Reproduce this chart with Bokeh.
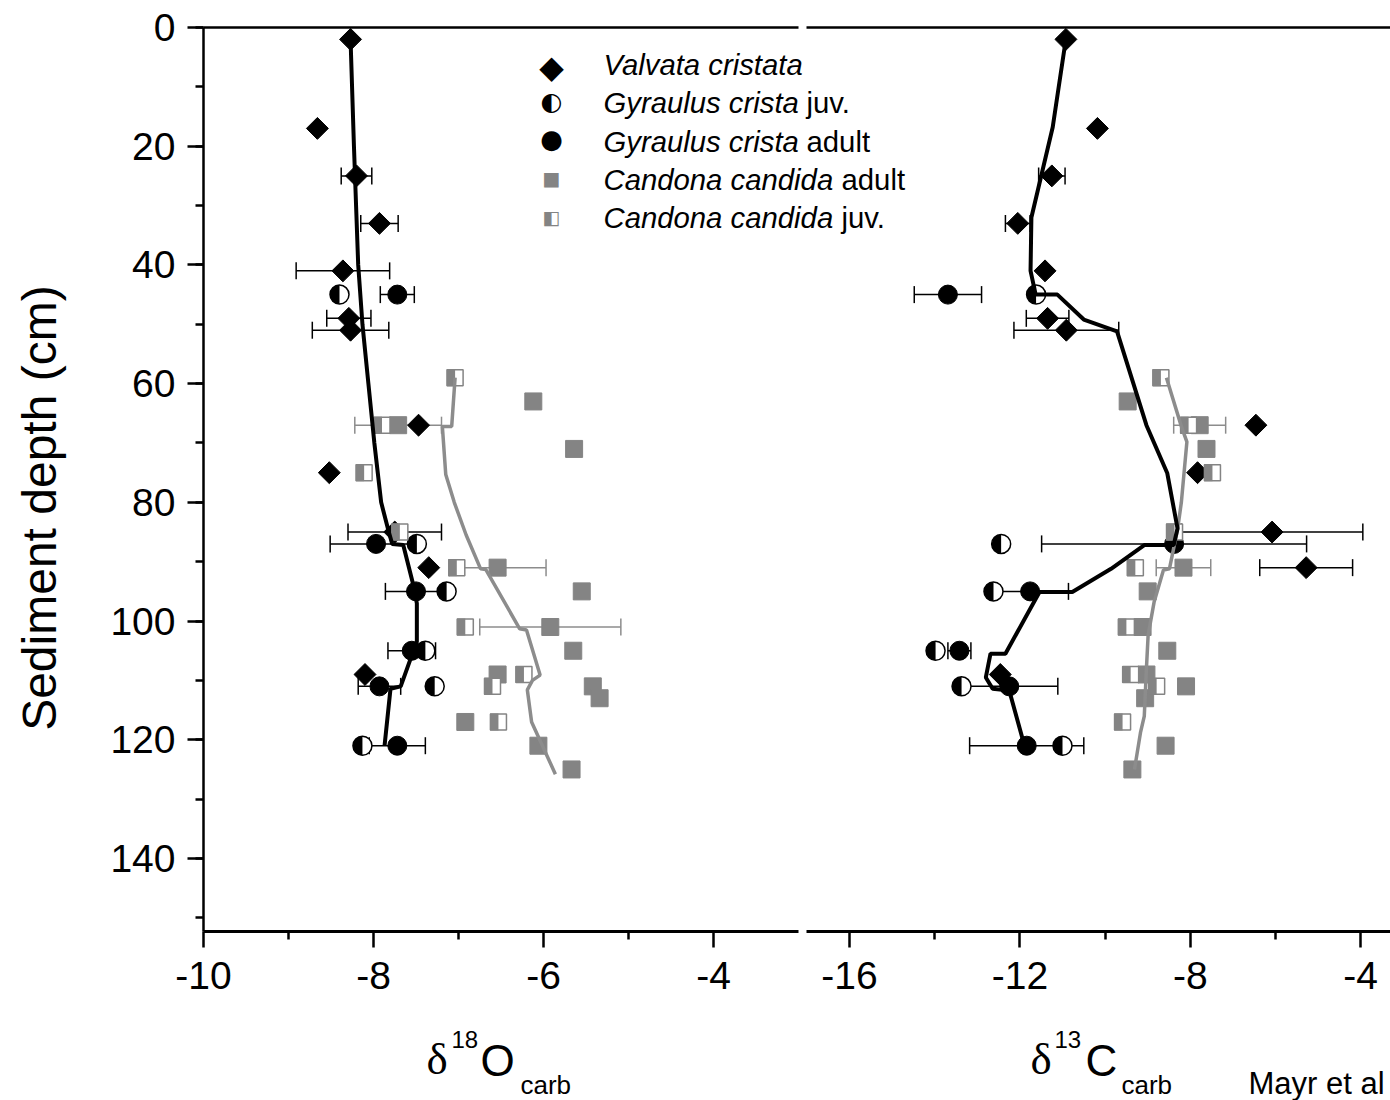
import numpy as np
from bokeh.plotting import figure
from bokeh.layouts import column, row
from bokeh.models import Range1d, LinearAxis, FixedTicker, SingleIntervalTicker, Label
from bokeh.embed import file_html
from bokeh.resources import INLINE

# ---------------- data: delta18O panel ----------------
VC_DEPTH_O = [2, 17, 25, 33, 41, 49, 51, 67, 75, 85, 91, 109]
VC_O = [-8.27, -8.66, -8.2, -7.93, -8.36, -8.29, -8.27, -7.47, -8.52, -7.75, -7.35, -8.1]
VC_O_ERR = [0, 0, 0.18, 0.22, 0.55, 0.26, 0.45, 0, 0, 0.55, 0, 0]

GJ_DEPTH_O = [45, 87, 95, 105, 111, 121]
GJ_O = [-8.4, -7.49, -7.14, -7.39, -7.28, -8.13]

GA_DEPTH_O = [45, 87, 95, 105, 111, 121]
GA_O = [-7.72, -7.97, -7.5, -7.55, -7.93, -7.72]
GA_O_ERR = [0.2, 0.54, 0.36, 0.28, 0.25, 0.33]

CA_DEPTH_O = [63, 67, 71, 91, 95, 101, 105, 109, 111, 113, 117, 121, 125]
CA_O = [-6.12, -7.71, -5.64, -6.54, -5.55, -5.92, -5.65, -6.54, -5.42, -5.34, -6.92, -6.06, -5.67]
CA_O_ERR = [0, 0.51, 0, 0.57, 0, 0.83, 0, 0, 0, 0, 0, 0, 0]

CJ_DEPTH_O = [59, 67, 75, 85, 91, 101, 109, 111, 117]
CJ_O = [-7.04, -7.9, -8.11, -7.69, -7.02, -6.92, -6.23, -6.6, -6.53]

MOLL_LINE_DEPTH_O = [2, 20, 40, 50, 60, 70, 80, 85, 87, 87.2, 94, 97, 103.5, 107, 111, 111.4, 121]
MOLL_LINE_O = [-8.27, -8.23, -8.18, -8.13, -8.06, -7.99, -7.91, -7.82, -7.78, -7.65, -7.53, -7.49,
               -7.49, -7.58, -7.68, -7.8, -7.87]
CAND_LINE_DEPTH_O = [59, 67.2, 67.2, 75.3, 80, 85.5, 91.2, 91.3, 101.3, 101.5, 109.1, 110, 111.6, 117, 125.8]
CAND_LINE_O = [-7.04, -7.08, -7.19, -7.15, -7.05, -6.91, -6.74, -6.68, -6.28, -6.2, -6.04, -6.13,
               -6.19, -6.14, -5.86]

# ---------------- data: delta13C panel ----------------
VC_DEPTH_C = [2, 17, 25, 33, 41, 49, 51, 67, 75, 85, 91, 109]
VC_C = [-10.92, -10.18, -11.25, -12.05, -11.41, -11.35, -10.91, -6.46, -7.83, -6.08, -5.28, -12.46]
VC_C_ERR = [0, 0, 0.31, 0.29, 0, 0.5, 1.23, 0, 0, 2.13, 1.09, 0]

GJ_DEPTH_C = [45, 87, 95, 105, 111, 121]
GJ_C = [-11.62, -12.44, -12.62, -13.98, -13.37, -11.0]

GA_DEPTH_C = [45, 87, 95, 105, 111, 121]
GA_C = [-13.69, -8.38, -11.76, -13.42, -12.25, -11.84]
GA_C_ERR = [0.79, 3.11, 0.9, 0.27, 1.14, 1.34]

CA_DEPTH_C = [63, 67, 71, 91, 95, 101, 105, 109, 111, 113, 121, 125]
CA_C = [-9.47, -7.78, -7.62, -8.16, -9.0, -9.12, -8.54, -9.03, -8.1, -9.06, -8.58, -9.36]
CA_C_ERR = [0, 0.61, 0, 0.64, 0, 0, 0, 0, 0, 0, 0, 0]

CJ_DEPTH_C = [59, 67, 75, 85, 91, 101, 109, 111, 117]
CJ_C = [-8.69, -8.04, -7.48, -8.37, -9.29, -9.5, -9.4, -8.79, -9.59]

MOLL_LINE_DEPTH_C = [1.9, 16.8, 32, 41, 45, 45, 49.2, 51.2, 67, 75.1, 84.4, 87.2, 87.2, 91.2, 95.1,
                     95.1, 105.5, 105.5, 109.5, 111.4, 111.7, 121.6]
MOLL_LINE_C = [-10.92, -11.23, -11.73, -11.75, -11.63, -11.12, -10.5, -9.72, -9.03, -8.54, -8.3,
               -8.39, -9.08, -9.86, -10.77, -11.54, -12.34, -12.69, -12.8, -12.64, -12.25, -11.87]
CAND_LINE_DEPTH_C = [59, 67.2, 69.8, 80, 84.6, 91.2, 91.4, 96.8, 102.4, 108, 116, 118.8, 125]
CAND_LINE_C = [-8.56, -8.21, -8.08, -8.21, -8.3, -8.49, -8.63, -8.85, -8.99, -9.03, -9.08, -9.17, -9.31]

# axis ticks
O_MAJOR = [-10, -8, -6, -4]
O_MINOR = [-9, -7, -5]
C_MAJOR = [-16, -12, -8, -4]
C_MINOR = [-14, -10, -6]
DEPTH_MAX = 152.3

# ---------------- layout ----------------
W, H = 1390, 1100
YW = 90                            # width of the strip holding the y title
MAIN_H = 1012                      # height of main plot; caption strip below
FL, FT, FB = 203, 27, 931          # frame left / top / bottom (canvas px)
FW = W - FL
PX_O = 85.0                        # px per delta18O unit
PX_C = 42.6                        # px per delta13C unit
O_LEFT, O_RIGHT = -10.0, -3.0
C_LEFT = -17.0
GAP = 8.4
TXT_SHIFT = 0.37                   # empirical baseline correction (fraction of font size)

main_end = O_LEFT + FW / PX_O
c_start = C_LEFT - ((O_RIGHT - O_LEFT) * PX_O + GAP) / PX_C
c_end = c_start + FW / PX_C

BLACK = "black"
GRAY = "#848484"
LGRAY = "#8c8c8c"

p = figure(width=W - YW, height=MAIN_H, output_backend="svg", toolbar_location=None,
           x_range=Range1d(O_LEFT, main_end), y_range=Range1d(DEPTH_MAX, 0),
           x_axis_location=None, min_border_left=FL - YW, min_border_right=0,
           min_border_top=FT, min_border_bottom=MAIN_H - FB)
p.extra_x_ranges = {"c13": Range1d(c_start, c_end)}
p.outline_line_color = None
p.xgrid.visible = False
p.ygrid.visible = False
p.background_fill_color = "white"
p.border_fill_color = "white"


def to_main(v):
    return O_LEFT + (v - c_start) * (main_end - O_LEFT) / (c_end - c_start)


def frame_line(side, rname, bounds, width):
    kw = {} if rname is None else {"x_range_name": rname}
    ax = LinearAxis(ticker=FixedTicker(ticks=[]), major_label_text_font_size="0px",
                    major_label_standoff=0, major_tick_out=0, major_tick_in=0,
                    minor_tick_out=0, minor_tick_in=0, axis_line_width=width,
                    bounds=bounds, **kw)
    p.add_layout(ax, side)


# split frame lines (bottom and top) with a small gap between the two panels
frame_line("below", None, (O_LEFT, O_RIGHT), 3)
frame_line("below", "c13", (C_LEFT, c_end), 3)
frame_line("above", None, (O_LEFT, O_RIGHT), 2.5)
frame_line("above", "c13", (C_LEFT, c_end), 2.5)

major = [float(t) for t in O_MAJOR] + [to_main(t) for t in C_MAJOR]
minor = [float(t) for t in O_MINOR] + [to_main(t) for t in C_MINOR]
labels = [str(t) for t in O_MAJOR] + [str(t) for t in C_MAJOR]

xa = LinearAxis(ticker=FixedTicker(ticks=major, minor_ticks=minor))
xa.major_label_overrides = {k: v for k, v in zip(major, labels)}
xa.major_label_text_font = "Liberation Sans"
xa.major_label_text_font_size = "39px"
xa.major_label_text_color = BLACK
xa.major_label_standoff = 14
xa.major_tick_out = 16
xa.major_tick_in = 0
xa.minor_tick_out = 8
xa.minor_tick_in = 0
xa.axis_line_color = None
xa.major_tick_line_width = 2.5
xa.minor_tick_line_width = 2.5
p.add_layout(xa, "below")

ya = p.yaxis[0]
ya.ticker = SingleIntervalTicker(interval=20, num_minor_ticks=2)
ya.major_label_text_font = "Liberation Sans"
ya.major_label_text_font_size = "39px"
ya.major_label_text_color = BLACK
ya.major_label_standoff = 12
ya.major_tick_out = 16
ya.major_tick_in = 0
ya.minor_tick_out = 8
ya.minor_tick_in = 0
ya.axis_line_width = 2.5
ya.major_tick_line_width = 2.5
ya.minor_tick_line_width = 2.5


def errbars(xs, ds, es, color, rname):
    xs, ds, es = np.array(xs, float), np.array(ds, float), np.array(es, float)
    m = es > 0
    x, d, e = xs[m], ds[m], es[m]
    kw = {} if rname is None else {"x_range_name": rname}
    p.segment(x0=x - e, x1=x + e, y0=d, y1=d, line_color=color, line_width=1.5, **kw)
    p.scatter(x=np.concatenate([x - e, x + e]), y=np.concatenate([d, d]), marker="dash",
              angle=np.pi / 2, size=17, line_color=color, line_width=1.5, **kw)


def panel(vc, vce, vcd, gj, gjd, ga, gae, gad, ca, cae, cad, cj, cjd, ml, mld, cl, cld, rname, ppu):
    kw = {} if rname is None else {"x_range_name": rname}
    errbars(vc, vcd, vce, BLACK, rname)
    errbars(ga, gad, gae, BLACK, rname)
    errbars(ca, cad, cae, LGRAY, rname)
    # Valvata cristata: diamonds
    p.scatter(x=vc, y=vcd, marker="square", angle=np.pi / 4, size=15.5,
              fill_color=BLACK, line_color=BLACK, **kw)
    # Gyraulus crista juv.: half-filled circles
    p.scatter(x=gj, y=gjd, marker="circle", size=19, fill_color="white",
              line_color=BLACK, line_width=1.5, **kw)
    p.wedge(x=gj, y=gjd, radius=9.5, radius_units="screen", start_angle=np.pi / 2,
            end_angle=3 * np.pi / 2, fill_color=BLACK, line_color=None, **kw)
    # Gyraulus crista adult: filled circles
    p.scatter(x=ga, y=gad, marker="circle", size=19, fill_color=BLACK, line_color=BLACK, **kw)
    # Candona candida adult: gray squares
    p.scatter(x=ca, y=cad, marker="square", size=17, fill_color=GRAY, line_color=GRAY, **kw)
    # Candona candida juv.: half-filled squares
    p.scatter(x=cj, y=cjd, marker="square", size=16, fill_color="white",
              line_color=GRAY, line_width=1.5, **kw)
    off = 4.25 / ppu
    p.rect(x=np.array(cj) - off, y=cjd, width=8.5, height=17, width_units="screen",
           height_units="screen", fill_color=GRAY, line_color=None, **kw)
    # smoothed trends
    p.line(x=cl, y=cld, line_color=LGRAY, line_width=3.5, **kw)
    p.line(x=ml, y=mld, line_color=BLACK, line_width=4, **kw)


panel(VC_O, VC_O_ERR, VC_DEPTH_O, GJ_O, GJ_DEPTH_O, GA_O, GA_O_ERR, GA_DEPTH_O,
      CA_O, CA_O_ERR, CA_DEPTH_O, CJ_O, CJ_DEPTH_O, MOLL_LINE_O, MOLL_LINE_DEPTH_O,
      CAND_LINE_O, CAND_LINE_DEPTH_O, None, PX_O)
panel(VC_C, VC_C_ERR, VC_DEPTH_C, GJ_C, GJ_DEPTH_C, GA_C, GA_C_ERR, GA_DEPTH_C,
      CA_C, CA_C_ERR, CA_DEPTH_C, CJ_C, CJ_DEPTH_C, MOLL_LINE_C, MOLL_LINE_DEPTH_C,
      CAND_LINE_C, CAND_LINE_DEPTH_C, "c13", PX_C)


def legend_text(txt, cx, cy, size, font="Liberation Sans", style="normal", color=BLACK,
                align="left", baseline="alphabetic", shift=True):
    dy = TXT_SHIFT * size if shift else 0
    p.add_layout(Label(x=cx - FL, y=FB - (cy - dy), x_units="screen", y_units="screen",
                       text=txt, text_font=font, text_font_size=f"{size}px",
                       text_font_style=style, text_color=color, text_align=align,
                       text_baseline=baseline))


# legend (inside the plot frame)
LEG_X, LEG_TX = 551, 603
rows = [75, 113.3, 151.7, 190, 228]
sym_y = [68, 103, 140, 179, 218]
syms = [("\u25C6", BLACK, 32), ("\u25D0", BLACK, 25), ("\u25CF", BLACK, 26),
        ("\u25A0", GRAY, 19), ("\u25E7", GRAY, 19)]
names = [("Valvata cristata", "", 0), ("Gyraulus crista", "juv.", 806),
         ("Gyraulus crista", "adult", 806), ("Candona candida", "adult", 841),
         ("Candona candida", "juv.", 841)]
for yb, ys, (s, c, fs), (it, nm, nx) in zip(rows, sym_y, syms, names):
    legend_text(s, LEG_X, ys - 2, fs, font="DejaVu Sans", color=c, align="center",
                baseline="middle", shift=False)
    legend_text(it, LEG_TX, yb, 29.3, style="italic")
    if nm:
        legend_text(nm, nx, yb, 29.3)

# ---------- strip with the y-axis title ----------
yfig = figure(width=YW, height=MAIN_H, output_backend="svg", toolbar_location=None,
              x_range=Range1d(0, YW), y_range=Range1d(MAIN_H, 0),
              x_axis_type=None, y_axis_type=None, min_border=0)
yfig.outline_line_color = None
yfig.grid.visible = False
yfig.add_layout(Label(x=57 - TXT_SHIFT * 48, y=538, text="Sediment depth (cm)",
                      text_font="Liberation Sans", text_font_size="48px",
                      text_align="center", text_baseline="alphabetic", angle=np.pi / 2,
                      text_color=BLACK))

# ---------- caption strip with x-axis titles ----------
cap = figure(width=W, height=H - MAIN_H, output_backend="svg", toolbar_location=None,
             x_range=Range1d(0, W), y_range=Range1d(H, MAIN_H),
             x_axis_type=None, y_axis_type=None, min_border=0)
cap.outline_line_color = None
cap.grid.visible = False


def cap_text(txt, cx, cy, size, font="Liberation Sans"):
    cap.add_layout(Label(x=cx, y=cy - TXT_SHIFT * size, text=txt, text_font=font,
                         text_font_size=f"{size}px", text_align="left",
                         text_baseline="alphabetic", text_color=BLACK))


cap_text("\u03B4", 426, 1075, 45, font="Liberation Serif")
cap_text("18", 451, 1048, 24)
cap_text("O", 480, 1076, 44)
cap_text("carb", 520, 1094, 26)
cap_text("\u03B4", 1030, 1075, 45, font="Liberation Serif")
cap_text("13", 1054, 1048, 24)
cap_text("C", 1085, 1076, 44)
cap_text("carb", 1121, 1094, 26)
cap_text("Mayr et al", 1248, 1094, 31)

layout = column(row(yfig, p), cap)
open("out.html", "w").write(file_html(layout, INLINE))
